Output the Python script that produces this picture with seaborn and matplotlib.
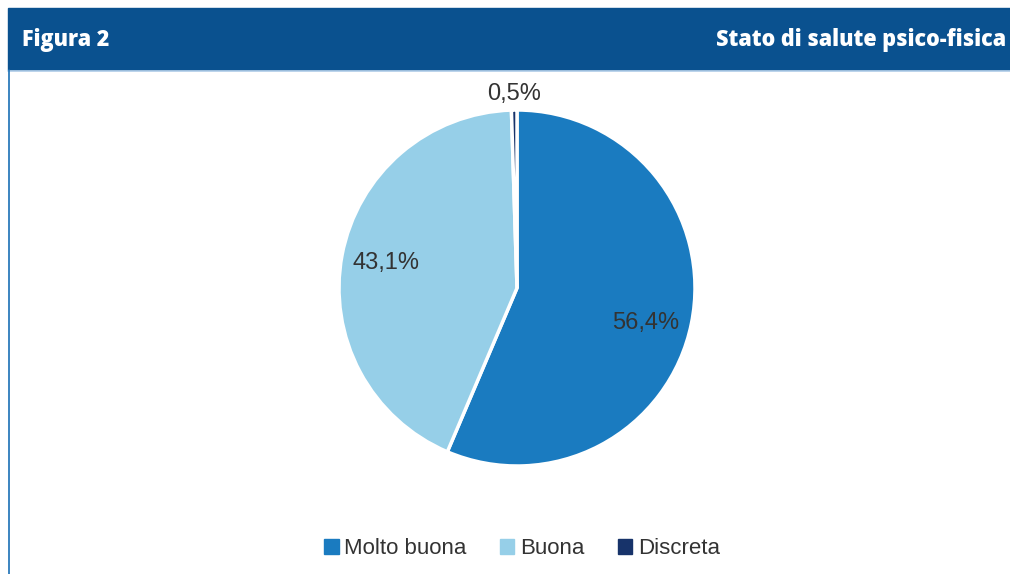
import matplotlib.pyplot as plt
import numpy as np
import seaborn as sns
from matplotlib.patches import Rectangle
from matplotlib.lines import Line2D

# Data
categories = ["Molto buona", "Buona", "Discreta"]
values = [56.4, 43.1, 0.5]
colors = ["#1a7bc0", "#96cfe8", "#17336a"]
header_left = "Figura 2"
header_right = "Stato di salute psico-fisica"

sns.set_theme(style="white")
plt.rcParams["font.family"] = ["Liberation Sans", "DejaVu Sans"]

W, H = 1010, 574
fig = plt.figure(figsize=(W / 100, H / 100), dpi=100)
fig.patch.set_facecolor("white")

# Header band and frame
fig.patches.append(Rectangle((8 / W, 1 - 70 / H), 1 - 8 / W, 62 / H,
                             transform=fig.transFigure, color="#0a518f",
                             zorder=0))
fig.lines.append(Line2D([8 / W, 1], [1 - 71 / H, 1 - 71 / H],
                        transform=fig.transFigure, color="#b9d3ec", lw=1.2))
fig.lines.append(Line2D([8.5 / W, 8.5 / W], [0, 1 - 70 / H],
                        transform=fig.transFigure, color="#1a6fb5", lw=1.2))
fig.text(22 / W, 1 - 40 / H, header_left, color="white", fontsize=15.5,
         fontweight="heavy", family=["Open Sans", "DejaVu Sans"],
         va="center", ha="left")
fig.text(1006 / W, 1 - 40 / H, header_right, color="white", fontsize=15.5,
         fontweight="heavy", family=["Open Sans", "DejaVu Sans"],
         va="center", ha="right")

# Pie
cx, cy, r = 517, 288, 178
ax = fig.add_axes([(cx - r) / W, 1 - (cy + r) / H, 2 * r / W, 2 * r / H])
wedges, texts, autotexts = ax.pie(
    values, colors=colors, startangle=90, counterclock=False,
    autopct=lambda p: f"{p:.1f}".replace(".", ",") + "%",
    pctdistance=0.75,
    wedgeprops=dict(edgecolor="white", linewidth=2.5),
    textprops=dict(fontsize=17, color="#333333"))
ax.set_aspect("equal")
ax.set_xlim(-1, 1)
ax.set_ylim(-1, 1)

# Excel-like label placement: big slice label a bit lower
w = wedges[0]
ang = np.deg2rad((w.theta1 + w.theta2) / 2 - 3.5)
autotexts[0].set_position((0.75 * np.cos(ang), 0.75 * np.sin(ang)))
# Move the tiny slice label outside
w = wedges[2]
ang = np.deg2rad((w.theta1 + w.theta2) / 2)
autotexts[2].set_position((1.09 * np.cos(ang), 1.09 * np.sin(ang)))

# Legend
handles = [Rectangle((0, 0), 1, 1, color=c) for c in colors]
fig.legend(handles, categories, loc="center", bbox_to_anchor=(522 / W, 1 - 549 / H),
           ncol=3, frameon=False, fontsize=16, handlelength=0.65,
           handleheight=0.65, handletextpad=0.25, columnspacing=1.5,
           labelcolor="#333333")

fig.savefig("out.png", dpi=100)
